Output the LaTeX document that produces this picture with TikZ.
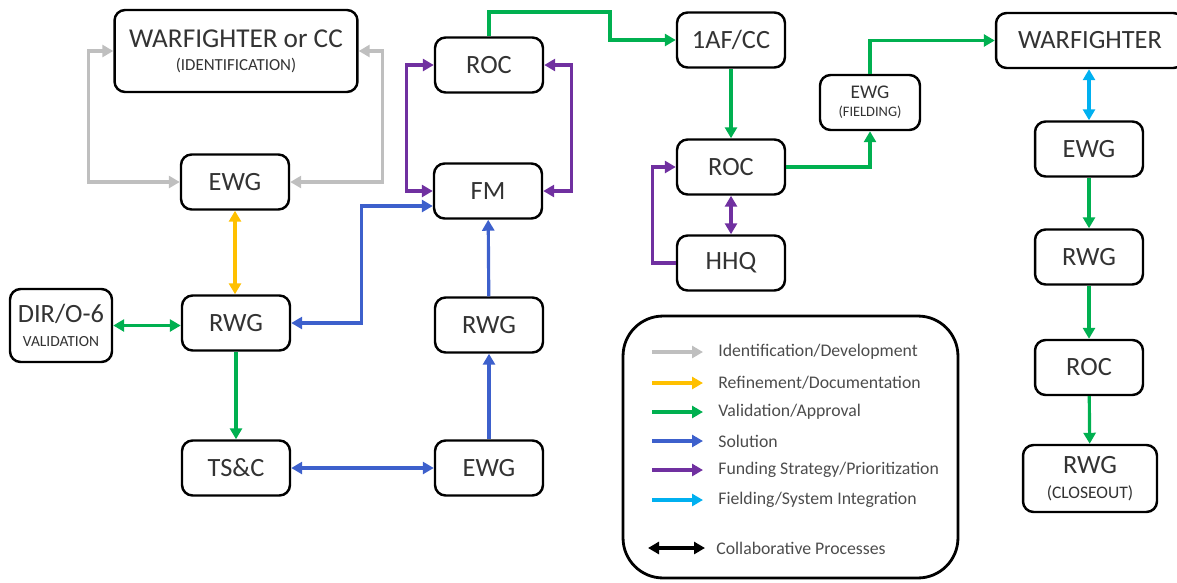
\documentclass[tikz,border=0pt]{standalone}
\usepackage{fontspec}
\setmainfont{Carlito}
\usetikzlibrary{arrows.meta}

\definecolor{idgray}{RGB}{191,191,191}
\definecolor{refyellow}{RGB}{255,192,0}
\definecolor{valgreen}{RGB}{0,176,80}
\definecolor{solblue}{RGB}{61,96,204}
\definecolor{fundpurple}{RGB}{112,48,160}
\definecolor{fieldcyan}{RGB}{0,176,240}

\newcommand\sublabel[2][9.5]{{\fontsize{#1}{#1}\selectfont #2}}

\tikzset{
	box/.style={draw, line width=1.4pt, rounded corners=6pt, fill=white,
		minimum width=2.16cm, minimum height=1.1cm, inner sep=0pt, align=center,
		text=black!80, font=\fontsize{15}{16}\selectfont},
	flow/.style={line width=1.8pt, -{Triangle[length=0.22cm,width=0.24cm]}},
	both/.style={line width=1.8pt, {Triangle[length=0.22cm,width=0.24cm]}-{Triangle[length=0.22cm,width=0.24cm]}},
	legtext/.style={anchor=west, inner sep=0pt, text=black!70, font=\fontsize{10.1}{11}\selectfont}
}

\begin{document}
\begin{tikzpicture}[x=0.02cm,y=-0.02cm]
	\useasboundingbox (0,0) rectangle (1177,582);
	% identification / development column
	\node [box, minimum width=4.86cm, minimum height=1.64cm, font=\fontsize{15.5}{16}\selectfont] (wfA) at (236,51) {WARFIGHTER or CC\\[-3pt]\sublabel[9.6]{(IDENTIFICATION)}};
	\node [box] (ewgA) at (235,182) {EWG};
	\node [box] (rwgA) at (236,323) {RWG};
	\node [box, minimum width=2.04cm, minimum height=1.46cm] (dir) at (61,325.5) {DIR/O-6\\[-2pt]\sublabel[8.8]{VALIDATION}};
	\node [box] (tsc) at (236,468) {TS\&C};
	\node [box] (ewgB) at (489,468) {EWG};
	\node [box] (rwgB) at (489,325) {RWG};
	\node [box] (fm) at (488,191) {FM};
	\node [box] (rocA) at (489,65) {ROC};
	% approval
	\node [box] (afcc) at (731,40) {1AF/CC};
	\node [box] (rocB) at (731,167) {ROC};
	\node [box] (hhq) at (731,263) {HHQ};
	\node [box, minimum width=2.0cm, font=\fontsize{11}{11}\selectfont] (ewgF) at (870,102.5) {EWG\\[-1pt]\sublabel[8.2]{(FIELDING)}};
	% fielding column
	\node [box, minimum width=3.76cm] (wfB) at (1090,40.5) {WARFIGHTER};
	\node [box] (ewgC) at (1089,149) {EWG};
	\node [box] (rwgC) at (1089,257) {RWG};
	\node [box] (rocC) at (1089,367.5) {ROC};
	\node [box, minimum width=2.68cm, minimum height=1.34cm] (rwgD) at (1090,478.5) {RWG\\[-2pt]\sublabel[10]{(CLOSEOUT)}};

	\draw [both, idgray] (wfA.west) -- ++(-25,0) |- (ewgA.west);
	\draw [both, idgray] (wfA.east) -- ++(24,0) |- (ewgA.east);
	\draw [both, refyellow] (ewgA.south) -- (ewgA.south |- rwgA.north);
	\draw [both, valgreen] (dir.east) -- (dir.east -| rwgA.west);
	\draw [flow, valgreen] (rwgA) -- (tsc);
	\draw [both, solblue] (tsc) -- (ewgB);
	\draw [flow, solblue] (ewgB) -- (rwgB);
	\draw [flow, solblue] (rwgB) -- (fm);
	\draw [both, solblue] (rwgA.east) -- ++(70,0) |- ([yshift=-0.3cm]fm.west);
	\draw [both, fundpurple] (rocA.west) -- ++(-27,0) |- (fm.west);
	\draw [both, fundpurple] (rocA.east) -- ++(27,0) |- (fm.east);
	\coordinate (hop) at (610,12);
	\draw [flow, valgreen] (rocA.north) |- (hop) |- (afcc.west);
	\draw [flow, valgreen] (afcc) -- (rocB);
	\draw [both, fundpurple] (rocB) -- (hhq);
	\draw [flow, fundpurple] (hhq.west) -- ++(-23,0) |- (rocB.west);
	\draw [flow, valgreen] (rocB.east) -| (ewgF.south);
	\draw [flow, valgreen] (ewgF.north) |- (wfB.west);
	\draw [both, fieldcyan] (ewgC.north) -- (ewgC.north |- wfB.south);
	\draw [flow, valgreen] (ewgC) -- (rwgC);
	\draw [flow, valgreen] (rwgC) -- (rocC);
	\draw [flow, valgreen] (rocC) -- (rwgD);

	% legend
	\node [draw, line width=1.6pt, rounded corners=0.8cm, minimum width=6.7cm, minimum height=5.24cm] (legend) at (790.5,447) {};
	\foreach \yy/\col/\txt [count=\i] in {352/idgray/{Identification/Development}, 383/refyellow/{Refinement/Documentation}, 412/valgreen/{Validation/Approval}, 441/solblue/{Solution}, 470/fundpurple/{Funding Strategy/Prioritization}, 500/fieldcyan/{Fielding/System Integration}} {
		\node [legtext] (lg\i) at (718,\yy) {\txt};
		\draw [flow, \col] ([xshift=-1.32cm]lg\i.west) -- ([xshift=-0.3cm]lg\i.west);
	}
	\node [legtext] (lgc) at (716,548) {Collaborative Processes};
	\draw [both, black] ([xshift=-1.36cm]lgc.west) -- ([xshift=-0.22cm]lgc.west);
\end{tikzpicture}
\end{document}
